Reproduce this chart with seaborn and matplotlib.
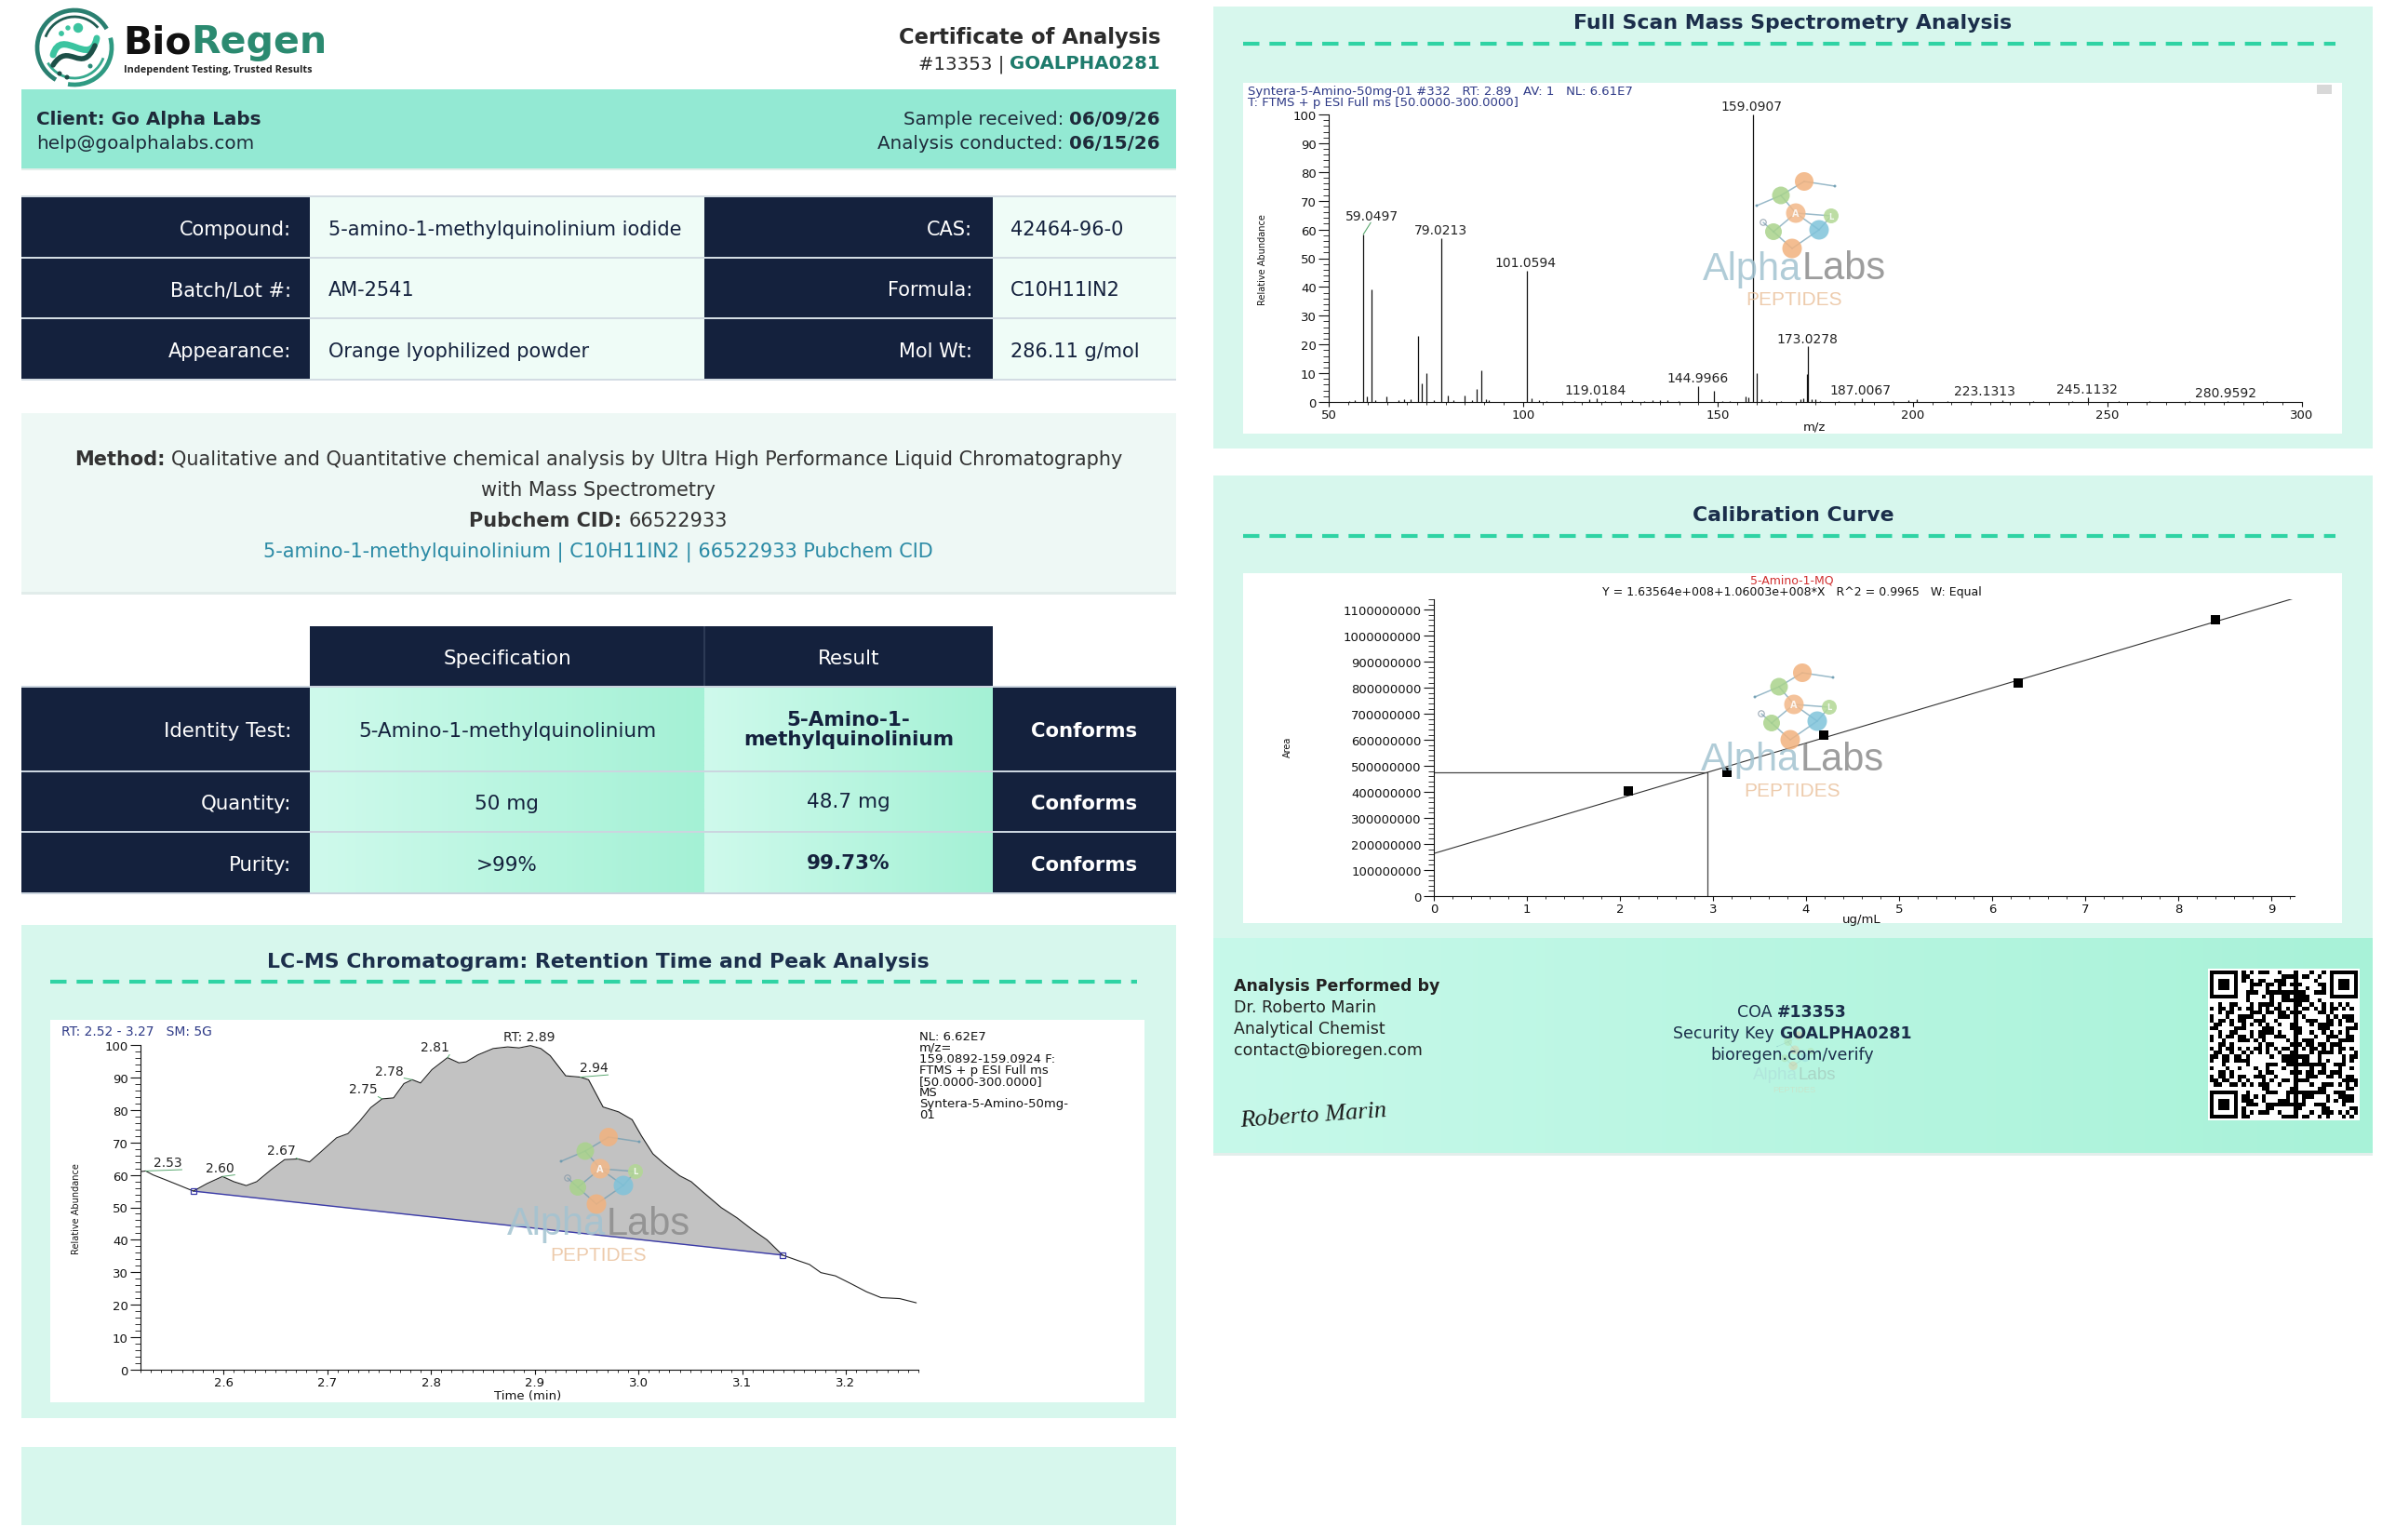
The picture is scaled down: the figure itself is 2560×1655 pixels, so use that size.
import numpy as np
import matplotlib
matplotlib.use('Agg')
import matplotlib.pyplot as plt
import seaborn as sns
from matplotlib.patches import Rectangle, Circle, Arc, PathPatch
from matplotlib.path import Path
from matplotlib.colors import LinearSegmentedColormap
from matplotlib.ticker import MultipleLocator, FuncFormatter, FormatStrFormatter

# ---------------------------------------------------------------- data
cert_number = '#13353'
security_key = 'GOALPHA0281'
client_name = 'Go Alpha Labs'
client_email = 'help@goalphalabs.com'
sample_received = '06/09/26'
analysis_conducted = '06/15/26'

info_labels_left = ['Compound:', 'Batch/Lot #:', 'Appearance:']
info_values_left = ['5-amino-1-methylquinolinium iodide', 'AM-2541', 'Orange lyophilized powder']
info_labels_right = ['CAS:', 'Formula:', 'Mol Wt:']
info_values_right = ['42464-96-0', 'C10H11IN2', '286.11 g/mol']

method_text = 'Qualitative and Quantitative chemical analysis by Ultra High Performance Liquid Chromatography'
method_text2 = 'with Mass Spectrometry'
pubchem_cid = '66522933'
pubchem_link = '5-amino-1-methylquinolinium | C10H11IN2 | 66522933 Pubchem CID'

spec_headers = ['Specification', 'Result']
test_names = ['Identity Test:', 'Quantity:', 'Purity:']
spec_values = ['5-Amino-1-methylquinolinium', '50 mg', '>99%']
result_values = ['5-Amino-1-\nmethylquinolinium', '48.7 mg', '99.73%']
result_bold = [True, False, True]
status_values = ['Conforms', 'Conforms', 'Conforms']

# full scan mass spectrum (m/z, relative abundance)
ms_mz = [55.2, 56.8, 58.9, 59.9, 60.9, 62.0, 64.9, 67.9, 69.3, 71.0, 72.9, 74.0, 75.0, 77.1,
         78.9, 80.6, 82.0, 84.9, 86.8, 88.0, 89.1, 90.3, 91.2, 101.0, 102.0, 103.9, 106.0,
         110.1, 113.0, 116.9, 118.8, 121.0, 124.9, 127.9, 131.0, 133.2, 135.0, 137.1, 139.9,
         145.0, 149.0, 151.0, 153.1, 157.0, 157.7, 159.1, 160.0, 161.2, 163.0, 166.1, 171.1,
         172.0, 172.8, 173.0, 174.0, 175.0, 176.1, 181.0, 187.0, 194.9, 199.0, 201.0, 208.9,
         215.1, 223.1, 231.0, 241.0, 245.1, 253.0, 260.9, 271.0, 280.9, 291.0]
ms_int = [0.4, 0.6, 58.3, 1.8, 39.2, 0.8, 2.0, 0.7, 1.0, 0.9, 22.9, 6.5, 10.0, 0.8,
          57.1, 2.4, 0.6, 2.2, 0.6, 4.6, 11.1, 1.0, 0.5, 45.5, 1.2, 0.5, 0.4,
          0.3, 0.4, 1.0, 1.4, 0.4, 0.3, 0.6, 0.4, 0.7, 0.5, 0.6, 0.3,
          5.4, 3.8, 0.4, 0.3, 2.0, 1.6, 100.0, 10.1, 1.0, 0.3, 0.4, 1.0,
          1.2, 9.8, 19.3, 1.1, 0.9, 0.4, 0.3, 1.2, 0.3, 0.8, 0.9, 0.3,
          0.3, 0.5, 0.3, 0.3, 1.5, 0.3, 0.2, 0.3, 0.3, 0.2]
ms_label_text = ['59.0497', '79.0213', '101.0594', '119.0184', '144.9966', '159.0907',
                 '173.0278', '187.0067', '223.1313', '245.1132', '280.9592']
ms_label_x = [61.2, 78.7, 100.6, 118.6, 144.8, 158.5, 172.9, 186.6, 218.4, 244.8, 280.4]
ms_label_y = [62.6, 57.7, 46.3, 1.9, 6.3, 100.8, 19.9, 2.0, 1.6, 2.2, 0.9]
ms_header1 = 'Syntera-5-Amino-50mg-01 #332   RT: 2.89   AV: 1   NL: 6.61E7'
ms_header2 = 'T: FTMS + p ESI Full ms [50.0000-300.0000]'

# LC-MS chromatogram (time in min, relative abundance)
lc_time = [2.520, 2.525, 2.532, 2.544, 2.558, 2.571, 2.584, 2.599, 2.610, 2.622, 2.632, 2.646,
           2.659, 2.672, 2.683, 2.694, 2.709, 2.720, 2.731, 2.742, 2.753, 2.764, 2.774, 2.782,
           2.790, 2.801, 2.816, 2.827, 2.834, 2.845, 2.860, 2.874, 2.885, 2.896, 2.906, 2.915,
           2.930, 2.944, 2.952, 2.966, 2.981, 2.994, 3.003, 3.014, 3.025, 3.040, 3.051, 3.062,
           3.080, 3.095, 3.110, 3.124, 3.139, 3.154, 3.165, 3.176, 3.190, 3.205, 3.220, 3.234,
           3.252, 3.268]
lc_int = [61.0, 61.2, 60.0, 58.5, 56.7, 55.0, 57.3, 59.5, 57.9, 56.7, 57.9, 61.6,
          64.7, 64.9, 64.0, 67.1, 71.4, 72.7, 76.4, 80.7, 83.4, 83.7, 88.1, 89.3,
          88.3, 92.4, 96.1, 94.5, 94.8, 96.9, 98.9, 99.4, 99.1, 99.8, 98.9, 96.7,
          90.5, 90.1, 89.3, 80.9, 79.4, 77.0, 72.0, 66.5, 63.4, 59.7, 57.9, 54.8,
          49.9, 46.8, 43.1, 40.0, 35.3, 33.6, 32.4, 29.9, 28.9, 26.5, 24.0, 22.2,
          21.9, 20.6]
lc_peak_start = (2.571, 55.0)
lc_peak_end = (3.139, 35.3)
lc_label_text = ['2.53', '2.60', '2.67', '2.75', '2.78', '2.81', 'RT: 2.89', '2.94']
lc_label_t = [2.546, 2.597, 2.656, 2.735, 2.760, 2.804, 2.895, 2.957]
lc_label_y = [61.9, 60.3, 65.5, 84.4, 90.1, 97.3, 100.7, 91.1]
lc_apex_t = [2.525, 2.599, 2.672, 2.753, 2.782, 2.816, 2.896, 2.944]
lc_apex_i = [61.2, 59.5, 64.9, 83.4, 89.3, 96.1, 99.8, 90.1]
lc_header = 'RT: 2.52 - 3.27   SM: 5G'
lc_info = ['NL: 6.62E7', 'm/z=', '159.0892-159.0924 F:', 'FTMS + p ESI Full ms',
           '[50.0000-300.0000]', 'MS', 'Syntera-5-Amino-50mg-', '01']

# calibration curve
cal_conc = [2.09, 3.15, 4.19, 6.28, 8.40]
cal_area = [4.03e8, 4.75e8, 6.18e8, 8.20e8, 1.061e9]
fit_intercept = 1.63564e8
fit_slope = 1.06003e8
fit_x_range = [0.0, 9.25]
sample_conc = 2.94
cal_title = '5-Amino-1-MQ'
cal_equation = 'Y = 1.63564e+008+1.06003e+008*X   R^2 = 0.9965   W: Equal'

analyst_lines = ['Dr. Roberto Marin', 'Analytical Chemist', 'contact@bioregen.com']

# ---------------------------------------------------------------- style
sns.set_theme(style='white')
plt.rcParams['font.family'] = ['DejaVu Sans']

NAVY = '#14213d'
TITLE = '#1b2e4b'
MINT = '#93e9d3'
PANEL = '#d7f7ed'
LIGHT = '#effcf7'
METHOD_BG = '#eef8f5'
DASH = '#2fd3a4'
TEAL = '#1e7b6c'
LINK = '#2a8aa5'
DARK = '#2b2b2b'
PLOTBLUE = '#2e3a87'
TICKFS = 9.5

W, H = 2560, 1656
fig = plt.figure(figsize=(W / 100, H / 100), dpi=100)
fig.patch.set_facecolor('white')
base = fig.add_axes([0, 0, 1, 1], zorder=0)
base.set_xlim(0, W)
base.set_ylim(H, 0)
base.axis('off')
overlay = fig.add_axes([0, 0, 1, 1], zorder=10)
overlay.set_xlim(0, W)
overlay.set_ylim(H, 0)
overlay.axis('off')
overlay.patch.set_alpha(0)

renderer = fig.canvas.get_renderer()


def tw(s, size, weight='normal', family=None):
    kw = {}
    if family:
        kw['family'] = family
    t = base.text(0, 0, s, fontsize=size, weight=weight, **kw)
    w = t.get_window_extent(renderer).width
    t.remove()
    return w


def rect(x0, y0, x1, y1, color, z=1, ax=None, **kw):
    (ax or base).add_patch(Rectangle((x0, y0), x1 - x0, y1 - y0, facecolor=color,
                                     edgecolor='none', zorder=z, **kw))


def hgrad(x0, y0, x1, y1, c0, c1, z=1):
    cmap = LinearSegmentedColormap.from_list('g', [c0, c1])
    g = np.linspace(0, 1, 256)[None, :]
    base.imshow(g, cmap=cmap, extent=[x0, x1, y1, y0], aspect='auto', zorder=z,
                interpolation='bilinear')


def txt(x, y, s, size, color=DARK, weight='normal', ha='left', va='center_baseline', z=5, **kw):
    return base.text(x, y, s, fontsize=size, color=color, weight=weight, ha=ha, va=va,
                     zorder=z, **kw)


def rich(x, y, parts, size, ha='left', z=5):
    sp = tw('a a', size) - tw('aa', size)
    widths = [tw(p[0], size, p[1]) for p in parts]
    total = sum(widths) + sp * (len(parts) - 1)
    cx = x if ha == 'left' else (x - total if ha == 'right' else x - total / 2)
    for (s, wt, col), w in zip(parts, widths):
        txt(cx, y, s, size, color=col, weight=wt, z=z)
        cx += w + sp


def dashed(x0, x1, y):
    base.plot([x0, x1], [y, y], color=DASH, lw=3, dashes=(4.2, 2.6),
              solid_capstyle='butt', zorder=3)


def watermark(ax, cx, cy, s=1.0, alpha=0.85, z=20, letters=True):
    fs = 30 * s
    wa = tw('Alpha', fs, family='Liberation Sans')
    wl = tw('Labs', fs, family='Liberation Sans')
    x0 = cx - (wa + wl) / 2
    ax.text(x0, cy, 'Alpha', fontsize=fs, color='#a3c3d1', family='Liberation Sans',
            ha='left', va='center_baseline', alpha=alpha, zorder=z)
    ax.text(x0 + wa + 1.0, cy, 'Labs', fontsize=fs, color='#8c8c8c', family='Liberation Sans',
            ha='left', va='center_baseline', alpha=alpha, zorder=z)
    ax.text(cx, cy + 36 * s, 'PEPTIDES', fontsize=15 * s, color='#eac29e',
            family='Liberation Sans', ha='center', va='center_baseline', alpha=alpha, zorder=z)
    nodes = [(11, -89, 10, '#f2b27e'), (-14, -74, 9.5, '#a9d38b'), (2, -55, 10.5, '#f3b888'),
             (40, -52, 8, '#b2d894'), (-22, -35, 9, '#a9d38b'), (27, -37, 10.5, '#7fc3da'),
             (-2, -17, 10.5, '#f2b27e'), (-33, -45, 3.2, 'none'), (44, -84, 1.5, '#6a9ab0'),
             (-40, -63, 1.5, '#6a9ab0')]
    edges = [(0, 1), (0, 8), (1, 2), (2, 3), (2, 5), (2, 4), (5, 6), (4, 6), (7, 4), (3, 5), (9, 1)]
    for a, b in edges:
        ax.plot([cx + nodes[a][0] * s, cx + nodes[b][0] * s],
                [cy + nodes[a][1] * s, cy + nodes[b][1] * s],
                color='#6a9ab0', lw=1.1 * s, alpha=alpha * 0.8, zorder=z)
    for dx, dy, r, c in nodes:
        if c == 'none':
            ax.add_patch(Circle((cx + dx * s, cy + dy * s), r * s, facecolor='none',
                                edgecolor='#8a9aa8', lw=0.8 * s, alpha=alpha, zorder=z))
        else:
            ax.add_patch(Circle((cx + dx * s, cy + dy * s), r * s, facecolor=c,
                                edgecolor='none', alpha=alpha, zorder=z))
    if letters:
        ax.text(cx + 2 * s, cy - 55 * s, 'A', fontsize=7 * s, color='white', ha='center',
                va='center', alpha=alpha, zorder=z, weight='bold')
        ax.text(cx + 40 * s, cy - 52 * s, 'L', fontsize=6 * s, color='white', ha='center',
                va='center', alpha=alpha, zorder=z, weight='bold')


def add_px_axes(x0, y0, x1, y1, z=2):
    a = fig.add_axes([x0 / W, 1 - y1 / H, (x1 - x0) / W, (y1 - y0) / H], zorder=z)
    a.set_facecolor('none')
    return a


def style_plot_axes(a, xmaj, xmin, ymaj, ymin):
    sns.despine(ax=a)
    for sp in ['left', 'bottom']:
        a.spines[sp].set_color('#111111')
        a.spines[sp].set_linewidth(0.8)
    a.xaxis.set_major_locator(MultipleLocator(xmaj))
    a.xaxis.set_minor_locator(MultipleLocator(xmin))
    a.yaxis.set_major_locator(MultipleLocator(ymaj))
    a.yaxis.set_minor_locator(MultipleLocator(ymin))
    a.tick_params(axis='y', which='major', direction='out', length=8, width=0.8, pad=1.5,
                  labelsize=TICKFS, colors='#111111', left=True)
    a.tick_params(axis='y', which='minor', direction='out', length=4.5, width=0.6,
                  colors='#111111', left=True)
    a.tick_params(axis='x', which='major', direction='out', length=3.5, width=0.8, pad=1.2,
                  labelsize=TICKFS, colors='#111111', bottom=True)
    a.tick_params(axis='x', which='minor', direction='out', length=2.2, width=0.6,
                  colors='#111111', bottom=True)
    a.set_xlabel('')
    a.set_ylabel('')
    a.grid(False)


# ---------------------------------------------------------------- header
LX0, LX1 = 23, 1264
RX0, RX1 = 1304, 2550

# logo
lc = (80, 52)
for t1, t2, col, r, lw in [(120, 330, '#2a7f70', 80, 3.4), (345, 100, '#2f9a82', 80, 3.4),
                           (200, 320, '#1f5c52', 66, 2.0), (20, 150, '#36a98e', 66, 2.0)]:
    base.add_patch(Arc(lc, r, r, theta1=t1, theta2=t2, color=col, lw=lw, zorder=3))
p1 = Path([(57, 60), (66, 29), (97, 75), (104, 42)], [Path.MOVETO, Path.CURVE4, Path.CURVE4, Path.CURVE4])
p2 = Path([(57, 71), (74, 44), (88, 83), (102, 50)], [Path.MOVETO, Path.CURVE4, Path.CURVE4, Path.CURVE4])
base.add_patch(PathPatch(p1, facecolor='none', edgecolor='#3cc4a0', lw=5, zorder=3, capstyle='round'))
base.add_patch(PathPatch(p2, facecolor='none', edgecolor='#1d5048', lw=4, zorder=3, capstyle='round'))
for (dx, dy, r, c) in [(66, 37, 2.2, '#3cc4a0'), (73, 31, 2.0, '#3cc4a0'), (84, 31, 4.5, '#3cc4a0'),
                       (64, 80, 1.8, '#1d5048'), (72, 84, 1.8, '#1d5048'), (97, 72, 1.8, '#2a8a78')]:
    base.add_patch(Circle((dx, dy), r, color=c, zorder=3))
wbio = tw('Bio', 29.5, 'bold')
txt(132, 57, 'Bio', 29.5, color='#111111', weight='bold', va='baseline')
txt(132 + wbio, 57, 'Regen', 29.5, color='#2b8a70', weight='bold', va='baseline')
base.text(133, 78, 'Independent Testing, Trusted Results', fontsize=7.8, family='Open Sans',
          weight='bold', color='#222222', ha='left', va='baseline', zorder=5)

txt(1247, 38, 'Certificate of Analysis', 16.3, color=DARK, weight='bold', ha='right')
rich(1247, 67, [(cert_number + ' |', 'normal', DARK), (security_key, 'bold', TEAL)], 14.2, ha='right')

# client band
rect(LX0, 97, LX1, 182, MINT, z=1)
rect(LX0, 182, LX1, 184, '#e2eeea', z=1)
txt(39, 126, 'Client: ' + client_name, 14.4, color='#1e2a3a', weight='bold')
txt(39, 153, client_email, 14.4, color='#1e2a3a')
rich(1247, 126, [('Sample received:', 'normal', '#1e2a3a'), (sample_received, 'bold', '#1e2a3a')], 14.3, ha='right')
rich(1247, 153, [('Analysis conducted:', 'normal', '#1e2a3a'), (analysis_conducted, 'bold', '#1e2a3a')], 14.3, ha='right')

# info table
rect(LX0, 211, LX1, 410, '#d3dce3', z=1)
info_rows = [(213, 277), (279, 342), (344, 408)]
for i, (y0, y1) in enumerate(info_rows):
    rect(LX0, y0, 333, y1, NAVY, z=2)
    rect(333, y0, 757, y1, LIGHT, z=2)
    rect(757, y0, 1067, y1, NAVY, z=2)
    rect(1067, y0, LX1, y1, LIGHT, z=2)
    yc = (y0 + y1) / 2
    txt(313, yc, info_labels_left[i], 15, color='white', ha='right')
    txt(353, yc, info_values_left[i], 15, color=NAVY)
    txt(1045, yc, info_labels_right[i], 15, color='white', ha='right')
    txt(1086, yc, info_values_right[i], 15, color=NAVY)

# method box
rect(LX0, 445, LX1, 637, METHOD_BG, z=1)
rect(LX0, 637, LX1, 640, '#e1ecea', z=1)
rich(643, 492, [('Method:', 'bold', '#333333'), (method_text, 'normal', '#333333')], 15, ha='center')
txt(643, 525, method_text2, 15, color='#333333', ha='center')
rich(643, 558, [('Pubchem CID:', 'bold', '#333333'), (pubchem_cid, 'normal', '#333333')], 15, ha='center')
txt(643, 591, pubchem_link, 15, color=LINK, ha='center')

# specification table
rect(333, 674, 1067, 738, NAVY, z=2)
rect(756, 674, 758, 738, '#2c3a55', z=3)
txt(545, 706, spec_headers[0], 15.5, color='white', ha='center')
txt(912, 706, spec_headers[1], 15.5, color='white', ha='center')
rect(LX0, 738, LX1, 962, '#cbd5df', z=1)
spec_rows = [(740, 829), (831, 894), (896, 960)]
for i, (y0, y1) in enumerate(spec_rows):
    rect(LX0, y0, 333, y1, NAVY, z=2)
    hgrad(333, y0, 757, y1, '#cffaec', '#a4f1d5', z=2)
    hgrad(757, y0, 1067, y1, '#cffaec', '#a4f1d5', z=2)
    rect(1067, y0, LX1, y1, NAVY, z=2)
    yc = (y0 + y1) / 2
    txt(313, yc, test_names[i], 15.3, color='white', ha='right')
    txt(545, yc, spec_values[i], 15.5, color=NAVY, ha='center')
    base.text(912, yc, result_values[i], fontsize=15.5, color=NAVY,
              weight='bold' if result_bold[i] else 'normal', ha='center', va='center',
              linespacing=1.1, zorder=5)
    txt(1165, yc, status_values[i], 15.3, color='white', weight='bold', ha='center')

# ---------------------------------------------------------------- LC-MS panel
rect(LX0, 995, LX1, 1525, PANEL, z=1)
txt(643, 1032, 'LC-MS Chromatogram: Retention Time and Peak Analysis', 15.8, color=TITLE,
    weight='bold', ha='center')
dashed(54, 1222, 1056)
rect(54, 1097, 1230, 1508, 'white', z=1)
rect(LX0, 1556, LX1, 1640, PANEL, z=1)

ax_lc = add_px_axes(151, 1124, 987, 1473)
lc_t = np.array(lc_time)
lc_i = np.array(lc_int)
sel = (lc_t >= lc_peak_start[0]) & (lc_t <= lc_peak_end[0])
base_line = np.interp(lc_t[sel], [lc_peak_start[0], lc_peak_end[0]], [lc_peak_start[1], lc_peak_end[1]])
ax_lc.fill_between(lc_t[sel], lc_i[sel], base_line, color='#c2c2c2', lw=0, zorder=1)
sns.lineplot(x=lc_time, y=lc_int, ax=ax_lc, color='#222222', lw=0.8, estimator=None,
             sort=False, zorder=3)
ax_lc.plot([lc_peak_start[0], lc_peak_end[0]], [lc_peak_start[1], lc_peak_end[1]],
           color='#3a3aa8', lw=1.0, zorder=2)
ax_lc.plot([lc_peak_start[0], lc_peak_end[0]], [lc_peak_start[1], lc_peak_end[1]], 's',
           mfc='none', mec='#3a3aa8', ms=5, mew=0.9, zorder=4)
for s, lt, ly, at, ai in zip(lc_label_text, lc_label_t, lc_label_y, lc_apex_t, lc_apex_i):
    if not s.startswith('RT'):
        ax_lc.plot([at, lt + 0.014], [ai, ly - 0.3], color='#5aa870', lw=0.7, zorder=4, clip_on=False)
    ax_lc.text(lt, ly, s, fontsize=10, color='#222222', ha='center', va='bottom', clip_on=False, zorder=5)
ax_lc.set_xlim(2.52, 3.27)
ax_lc.set_ylim(0, 100)
style_plot_axes(ax_lc, 0.1, 0.01, 10, 2)
ax_lc.xaxis.set_major_formatter(FormatStrFormatter('%.1f'))
txt(66, 1108, lc_header, 10, color=PLOTBLUE)
base.text(988, 1108, '\n'.join(lc_info), fontsize=9.5, color='#111111', ha='left', va='top',
          linespacing=0.9, zorder=5)
txt(82, 1299, 'Relative Abundance', 7, color='#111111', ha='center', va='center', rotation=90)
txt(567, 1501, 'Time (min)', 9.5, color='#111111', ha='center', va='center')
watermark(overlay, 643, 1312, s=1.0)

# ---------------------------------------------------------------- MS panel
rect(RX0, 8, RX1, 483, PANEL, z=1)
txt(1927, 23, 'Full Scan Mass Spectrometry Analysis', 15.8, color=TITLE, weight='bold', ha='center')
dashed(1336, 2510, 48)
rect(1336, 90, 2517, 467, 'white', z=1)
rect(2490, 92, 2506, 102, '#d8d8d8', z=3)
ax_ms = add_px_axes(1428, 124, 2474, 433)
ax_ms.vlines(ms_mz, 0, ms_int, color='#111111', lw=0.9)
for s, lx, ly in zip(ms_label_text, ms_label_x, ms_label_y):
    ax_ms.text(lx, ly, s, fontsize=10, color='#222222', ha='center', va='bottom', clip_on=False)
ax_ms.plot([58.9, 60.8], [58.3, 62.4], color='#5aa870', lw=0.8)
ax_ms.set_xlim(50, 300)
ax_ms.set_ylim(0, 100)
style_plot_axes(ax_ms, 50, 5, 10, 2)
txt(1341, 97, ms_header1, 9.5, color=PLOTBLUE)
txt(1341, 109, ms_header2, 9.5, color=PLOTBLUE)
txt(1357, 279, 'Relative Abundance', 7, color='#111111', ha='center', va='center', rotation=90)
txt(1950, 459, 'm/z', 9.5, color='#111111', ha='center', va='center')
watermark(overlay, 1928, 285, s=1.0)

# ---------------------------------------------------------------- calibration panel
rect(RX0, 512, RX1, 1009, PANEL, z=1)
txt(1927, 552, 'Calibration Curve', 15.8, color=TITLE, weight='bold', ha='center')
dashed(1336, 2510, 577)
rect(1336, 617, 2517, 993, 'white', z=1)
ax_cal = add_px_axes(1541, 645, 2466, 964)
fit_x = np.array(fit_x_range)
fit_y = fit_intercept + fit_slope * fit_x
sns.lineplot(x=fit_x, y=fit_y, ax=ax_cal, color='#333333', lw=0.8, estimator=None, zorder=2)
sample_area = fit_intercept + fit_slope * sample_conc
ax_cal.plot([0, sample_conc], [sample_area, sample_area], color='#444444', lw=0.9, zorder=2)
ax_cal.plot([sample_conc, sample_conc], [0, sample_area], color='#444444', lw=0.9, zorder=2)
sns.scatterplot(x=cal_conc, y=cal_area, ax=ax_cal, marker='s', color='black', s=50,
                edgecolor='black', linewidth=0, zorder=3)
ax_cal.set_xlim(0, 9.25)
ax_cal.set_ylim(0, 1.14e9)
style_plot_axes(ax_cal, 1, 0.2, 1e8, 2e7)
ax_cal.yaxis.set_major_formatter(FuncFormatter(lambda v, p: f'{v:.0f}'))
ax_cal.xaxis.set_major_formatter(FuncFormatter(lambda v, p: f'{v:.0f}'))
txt(1926, 623, cal_title, 9, color='#d03030', ha='center')
txt(1926, 635, cal_equation, 9, color='#111111', ha='center')
txt(1384, 803, 'Area', 7, color='#111111', ha='center', va='center', rotation=90)
txt(2001, 989, 'ug/mL', 9.5, color='#111111', ha='center', va='center')
watermark(overlay, 1926, 813, s=1.0)

# ---------------------------------------------------------------- footer
hgrad(RX0, 1009, RX1, 1240, '#c7f9ea', '#a8f2d8', z=1)
rect(RX0, 1240, RX1, 1243, '#e3eeeb', z=1)
watermark(base, 1928, 1154, s=0.45, alpha=0.3, z=3, letters=False)
txt(1326, 1058, 'Analysis Performed by', 12.5, color='#222222', weight='bold')
for k, line in enumerate(analyst_lines):
    txt(1326, 1081 + 23 * k, line, 12.5, color='#222222')
base.text(1332, 1200, 'Roberto Marin', fontsize=19, family='Liberation Serif', style='italic',
          color='#1a1a1a', ha='left', va='center', rotation=4, zorder=5)
rich(1926, 1086, [('COA', 'normal', TITLE), (cert_number, 'bold', TITLE)], 12.5, ha='center')
rich(1926, 1109, [('Security Key', 'normal', TITLE), (security_key, 'bold', TITLE)], 12.5, ha='center')
txt(1926, 1132, 'bioregen.com/verify', 12.5, color=TITLE, ha='center')

# QR code (decorative module pattern)
n = 37
ii, jj = np.mgrid[0:n, 0:n]
qr = (((ii * 7 + jj * 13 + ii * jj * 3) % 5) < 2) ^ ((((ii + jj) * jj) % 7) < 2)
qr = qr.astype(float)
for (r0, c0) in [(0, 0), (0, n - 7), (n - 7, 0)]:
    qr[max(r0 - 1, 0):r0 + 8, max(c0 - 1, 0):c0 + 8] = 0
    qr[r0:r0 + 7, c0:c0 + 7] = 1
    qr[r0 + 1:r0 + 6, c0 + 1:c0 + 6] = 0
    qr[r0 + 2:r0 + 5, c0 + 2:c0 + 5] = 1
rect(2373, 1042, 2536, 1205, 'white', z=3)
base.imshow(1 - qr, cmap='gray', vmin=0, vmax=1, extent=[2375, 2534, 1203, 1044],
            aspect='auto', interpolation='nearest', zorder=4)

base.set_xlim(0, W)
base.set_ylim(H, 0)
fig.savefig('out.png', dpi=100)
